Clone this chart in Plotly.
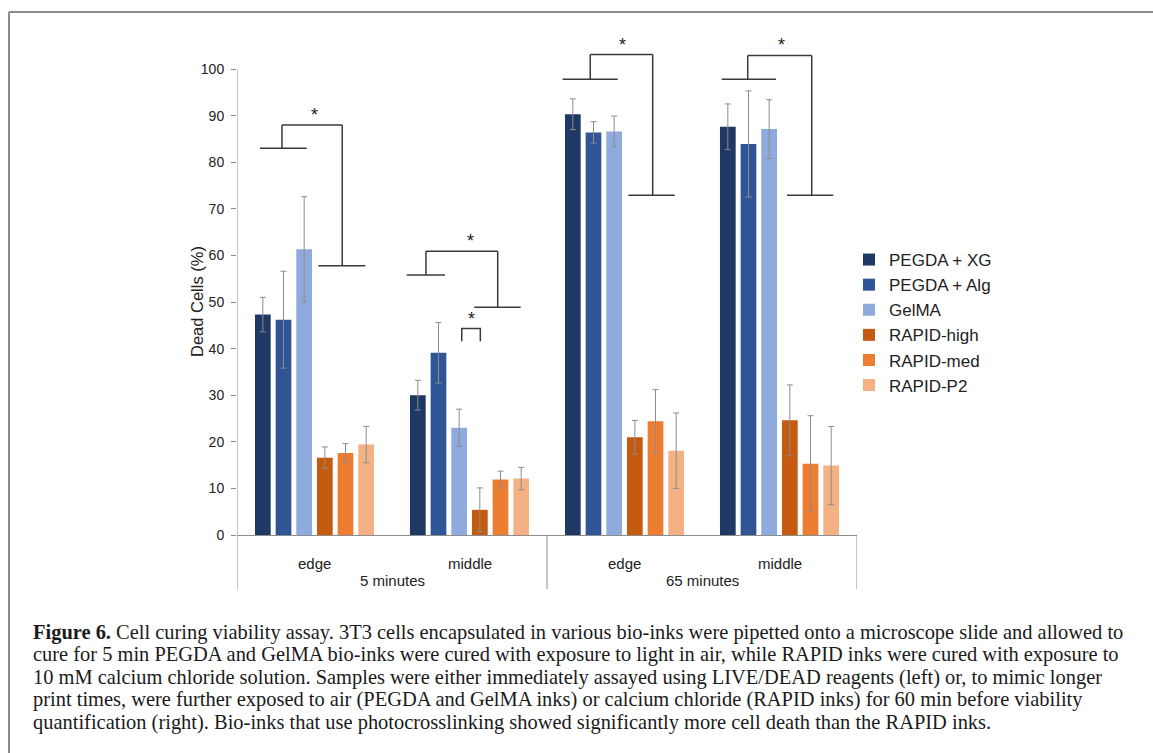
import plotly.graph_objects as go

# ---------------- data ----------------
time_groups = ["5 minutes", "65 minutes"]
positions = ["edge", "middle", "edge", "middle"]
series_names = ["PEGDA + XG", "PEGDA + Alg", "GelMA", "RAPID-high", "RAPID-med", "RAPID-P2"]
colors = ["#203864", "#2F5597", "#8FAADC", "#C55A11", "#ED7D31", "#F4B183"]

pegda_xg = [47.3, 30.0, 90.3, 87.6]
pegda_alg = [46.2, 39.1, 86.4, 83.9]
gelma = [61.3, 23.0, 86.6, 87.1]
rapid_high = [16.6, 5.4, 21.0, 24.6]
rapid_med = [17.6, 11.9, 24.4, 15.3]
rapid_p2 = [19.4, 12.1, 18.1, 14.9]

err_xg = [3.7, 3.2, 3.3, 4.9]
err_alg = [10.4, 6.5, 2.3, 11.4]
err_gelma = [11.3, 4.0, 3.3, 6.3]
err_high = [2.3, 4.7, 3.6, 7.6]
err_med = [2.0, 1.8, 6.8, 10.3]
err_p2 = [3.9, 2.4, 8.1, 8.4]

values = [pegda_xg, pegda_alg, gelma, rapid_high, rapid_med, rapid_p2]
errors = [err_xg, err_alg, err_gelma, err_high, err_med, err_p2]

y_ticks = list(range(0, 101, 10))

caption_lines = [
    "<b>Figure 6.</b> Cell curing viability assay. 3T3 cells encapsulated in various bio-inks were pipetted onto a microscope slide and allowed to",
    "cure for 5 min PEGDA and GelMA bio-inks were cured with exposure to light in air, while RAPID inks were cured with exposure to",
    "10 mM calcium chloride solution. Samples were either immediately assayed using LIVE/DEAD reagents (left) or, to mimic longer",
    "print times, were further exposed to air (PEGDA and GelMA inks) or calcium chloride (RAPID inks) for 60 min before viability",
    "quantification (right). Bio-inks that use photocrosslinking showed significantly more cell death than the RAPID inks.",
]

# significance brackets (x in category units, y in % units)
brackets = [
    dict(l=(-0.352, -0.050, 83.0), lv=-0.210, top=88.0, rv=0.179, r=(0.0245, 0.328, 57.8), star=-0.001),
    dict(l=(0.595, 0.842, 55.8), lv=0.719, top=60.9, rv=1.182, r=(1.031, 1.330, 48.9), star=1.008),
    dict(l=(1.601, 1.956, 97.8), lv=1.779, top=103.1, rv=2.182, r=(2.025, 2.324, 72.9), star=1.988),
    dict(l=(2.627, 2.977, 97.8), lv=2.795, top=102.9, rv=3.208, r=(3.048, 3.347, 72.9), star=3.014),
]
small_bracket = dict(x0=0.950, x1=1.070, top=44.3, bottom=41.6, star=1.012)

# ---------------- figure ----------------
W, H = 1153, 753
H_EFF = 745  # rendered height observed in the viewer
xs = list(range(len(positions)))

fig = go.Figure()
for name, col, v, e in zip(series_names, colors, values, errors):
    fig.add_trace(go.Bar(
        x=xs, y=v, name=name,
        marker=dict(color=col, line=dict(width=0)),
        error_y=dict(type="data", array=e, visible=True, color="#8c8c8c", thickness=1, width=3),
    ))

px = lambda p: p / W
py = lambda p: (H_EFF - p) / H_EFF

x_dom = [px(237), px(857)]
y_top_val = 107
y_dom = [py(535), py(535 - 4.66 * y_top_val)]

shapes = []
line_col = "#3a3a3a"
lw = 1.5
for b in brackets:
    x0, x1, yl = b["l"]
    shapes.append(dict(type="line", xref="x", yref="y", x0=x0, x1=x1, y0=yl, y1=yl, line=dict(color=line_col, width=lw)))
    shapes.append(dict(type="line", xref="x", yref="y", x0=b["lv"], x1=b["lv"], y0=yl, y1=b["top"], line=dict(color=line_col, width=lw)))
    shapes.append(dict(type="line", xref="x", yref="y", x0=b["lv"], x1=b["rv"], y0=b["top"], y1=b["top"], line=dict(color=line_col, width=lw)))
    rx0, rx1, yr = b["r"]
    shapes.append(dict(type="line", xref="x", yref="y", x0=b["rv"], x1=b["rv"], y0=b["top"], y1=yr, line=dict(color=line_col, width=lw)))
    shapes.append(dict(type="line", xref="x", yref="y", x0=rx0, x1=rx1, y0=yr, y1=yr, line=dict(color=line_col, width=lw)))
sb = small_bracket
shapes.append(dict(type="path", xref="x", yref="y",
                   path=f"M{sb['x0']},{sb['bottom']} L{sb['x0']},{sb['top']} L{sb['x1']},{sb['top']} L{sb['x1']},{sb['bottom']}",
                   line=dict(color=line_col, width=lw)))

axis_col = "#8c8c8c"
shapes.append(dict(type="line", xref="x", yref="y", x0=-0.5, x1=-0.5, y0=0, y1=100, line=dict(color=axis_col, width=1)))
for xd in [-0.5, 1.5, 3.5]:
    shapes.append(dict(type="line", xref="x", yref="paper", x0=xd, x1=xd, y0=py(535), y1=py(589), line=dict(color=axis_col, width=1)))

frame_col = "#8a8a8a"
shapes.append(dict(type="line", xref="paper", yref="paper", x0=px(9), x1=1, y0=py(12), y1=py(12), line=dict(color=frame_col, width=2)))
shapes.append(dict(type="line", xref="paper", yref="paper", x0=px(9), x1=px(9), y0=py(12), y1=-0.05, line=dict(color=frame_col, width=2)))

annotations = []
star_font = dict(family="Liberation Sans, Arial", size=18, color="#222")
for b in brackets:
    annotations.append(dict(x=b["star"], y=b["top"], xref="x", yref="y", text="*", showarrow=False,
                            yanchor="bottom", yshift=-2, font=star_font))
annotations.append(dict(x=sb["star"], y=sb["top"], xref="x", yref="y", text="*", showarrow=False,
                        yanchor="bottom", yshift=-2, font=star_font))

lab_font = dict(family="Liberation Sans, Arial", size=15, color="#222")
for i, p in enumerate(positions):
    annotations.append(dict(x=i, y=py(563), xref="x", yref="paper", text=p, showarrow=False,
                            yanchor="middle", font=lab_font))
for g, tg in enumerate(time_groups):
    annotations.append(dict(x=2 * g + 0.5, y=py(580), xref="x", yref="paper", text=tg, showarrow=False,
                            yanchor="middle", font=lab_font))

annotations.append(dict(x=px(186), y=py(302), xref="paper", yref="paper", text="Dead Cells (%)", textangle=-90,
                        showarrow=False, font=dict(family="Liberation Sans, Arial", size=16.5, color="#222")))

cap_font = dict(family="Liberation Serif, Times New Roman", size=20.45, color="#1a1a1a")
for k, line in enumerate(caption_lines):
    annotations.append(dict(x=px(31), y=py(632 + 22.6 * k), xref="paper", yref="paper", text=line,
                            showarrow=False, xanchor="left", yanchor="middle", font=cap_font))

fig.update_layout(
    width=W, height=H, autosize=False,
    margin=dict(l=0, r=0, t=0, b=0),
    paper_bgcolor="white", plot_bgcolor="white",
    barmode="group", bargap=0.2, bargroupgap=0.24,
    xaxis=dict(domain=x_dom, range=[-0.5, 3.5], showgrid=False, zeroline=False,
               showline=True, linecolor=axis_col, linewidth=1, showticklabels=False, ticks=""),
    yaxis=dict(domain=y_dom, range=[0, y_top_val], tickvals=y_ticks, showgrid=False, zeroline=False,
               showline=False, ticks="outside", ticklen=5, tickcolor=axis_col, ticklabelstandoff=4,
               tickfont=dict(family="Liberation Sans, Arial", size=14, color="#222")),
    legend=dict(x=px(849), y=py(242), xanchor="left", yanchor="top",
                font=dict(family="Liberation Sans, Arial", size=17, color="#222"),
                bgcolor="rgba(0,0,0,0)", tracegroupgap=0),
    shapes=shapes, annotations=annotations,
)

fig.write_html("out.html", config={"displayModeBar": False},
               post_script="document.body.style.margin='0px';")
